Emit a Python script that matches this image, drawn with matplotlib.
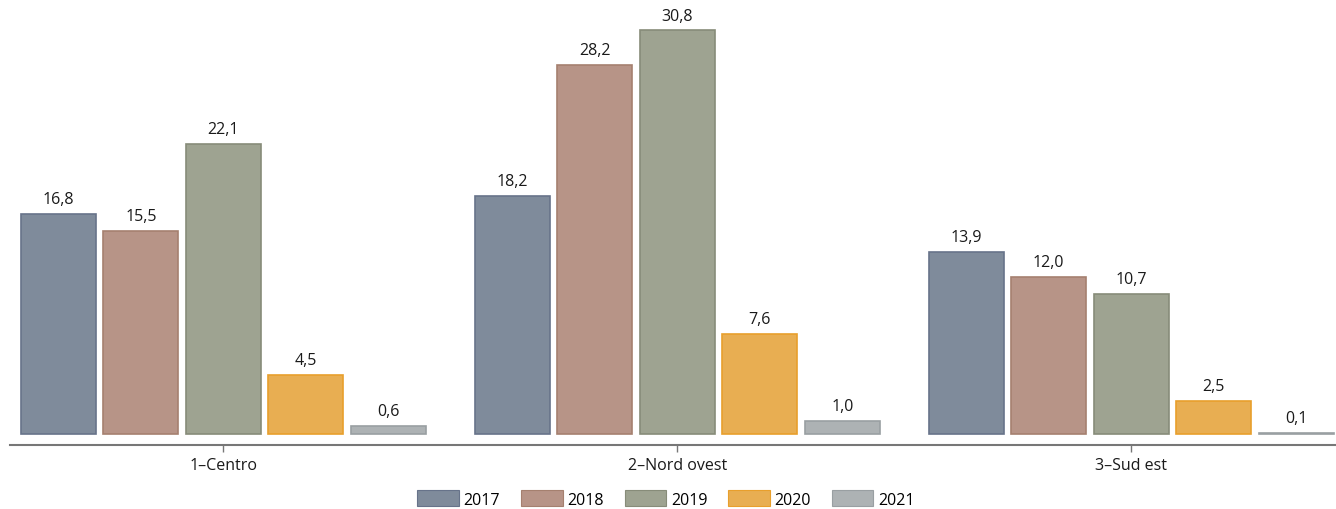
import numpy as np
import matplotlib.pyplot as plt
from matplotlib.patches import Patch

regions = ['1\u2013Centro', '2\u2013Nord ovest', '3\u2013Sud est']
years = ['2017', '2018', '2019', '2020', '2021']
values = {
    '2017': [16.8, 18.2, 13.9],
    '2018': [15.5, 28.2, 12.0],
    '2019': [22.1, 30.8, 10.7],
    '2020': [4.5, 7.6, 2.5],
    '2021': [0.6, 1.0, 0.1],
}

fills = ['#7f8b9b', '#b79487', '#9ea391', '#e8ae52', '#adb2b4']
edges = ['#67738a', '#a5806f', '#878c79', '#e89f2c', '#999fa2']

plt.rcParams['font.family'] = ['Open Sans', 'DejaVu Sans']

fig = plt.figure(figsize=(13.36, 5.10), dpi=100)
ax = fig.add_axes([10 / 1336, 64 / 510, 1326 / 1336, 446 / 510])

x = np.arange(len(regions))
pitch = 0.1817
width = 0.165
for i, yr in enumerate(years):
    pos = x + (i - 2) * pitch
    bars = ax.bar(pos, values[yr], width, color=fills[i], edgecolor=edges[i], linewidth=1.2)
    for b, v in zip(bars, values[yr]):
        ax.annotate(f'{v:.1f}'.replace('.', ','), (b.get_x() + b.get_width() / 2, v),
                    xytext=(0, 5), textcoords='offset points', ha='center', va='bottom',
                    fontsize=11.5, color='#1a1a1a')

ax.set_xlim(-0.470, 2.451)
ax.set_ylim(-0.84, 33.2)
ax.set_xticks(x)
ax.set_xticklabels(regions, fontsize=11.5, color='#1a1a1a')
ax.tick_params(axis='x', length=5, width=1, color='#777777', pad=4)
ax.set_yticks([])
for s in ['top', 'right', 'left']:
    ax.spines[s].set_visible(False)
ax.spines['bottom'].set_color('#777777')
ax.spines['bottom'].set_linewidth(1.5)

handles = [Patch(facecolor=fills[i], edgecolor=edges[i], linewidth=0.8) for i in range(len(years))]
fig.legend(handles, years, loc='center', bbox_to_anchor=(666 / 1336, 1 - 500 / 510), ncol=5,
           frameon=False, fontsize=11.5, handlelength=2.6, handleheight=1.1,
           handletextpad=0.3, columnspacing=1.3)

fig.savefig('out.png', dpi=100)
